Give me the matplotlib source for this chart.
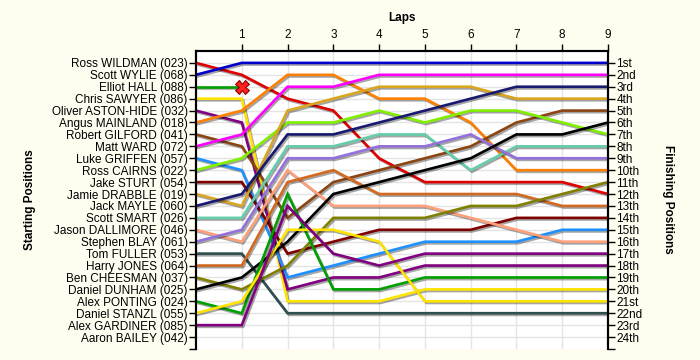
import matplotlib
matplotlib.use("Agg")
import matplotlib.pyplot as plt
import matplotlib.patheffects as pe

plt.rcParams['font.family'] = ['Liberation Sans', 'DejaVu Sans']

laps = [0, 1, 2, 3, 4, 5, 6, 7, 8, 9]

drivers = ["Ross WILDMAN (023)", "Scott WYLIE (068)", "Elliot HALL (088)", "Chris SAWYER (086)",
           "Oliver ASTON-HIDE (032)", "Angus MAINLAND (018)", "Robert GILFORD (041)", "Matt WARD (072)",
           "Luke GRIFFEN (057)", "Ross CAIRNS (022)", "Jake STURT (054)", "Jamie DRABBLE (019)",
           "Jack MAYLE (060)", "Scott SMART (026)", "Jason DALLIMORE (046)", "Stephen BLAY (061)",
           "Tom FULLER (053)", "Harry JONES (064)", "Ben CHEESMAN (037)", "Daniel DUNHAM (025)",
           "Alex PONTING (024)", "Daniel STANZL (055)", "Alex GARDINER (085)", "Aaron BAILEY (042)"]

colors = ["#E00000", "#0000CC", "#00A000", "#FFE400", "#800080", "#FF8000", "#8B4513", "#FF00FF",
          "#1E90FF", "#80F000", "#800000", "#DAA520", "#191970", "#66CDAA", "#FFA07A", "#9370DB",
          "#2F4F4F", "#D2691E", "#808000", "#000000", "#00A000", "#FFE400", "#800080", "#000000"]

# position of each driver at each lap (lap 0 = grid)
positions = [
    [1, 2, 4, 5, 9, 11, 11, 11, 11, 12],
    [2, 1, 1, 1, 1, 1, 1, 1, 1, 1],
    [3, 3],
    [4, 4, 21, 21, 21, 20, 20, 20, 20, 20],
    [5, 6, 20, 19, 19, 18, 18, 18, 18, 18],
    [6, 5, 2, 2, 4, 4, 6, 10, 10, 10],
    [7, 8, 14, 11, 10, 9, 8, 6, 5, 5],
    [8, 7, 3, 3, 2, 2, 2, 2, 2, 2],
    [9, 10, 19, 18, 17, 16, 16, 16, 15, 15],
    [10, 9, 6, 6, 5, 6, 5, 5, 6, 7],
    [11, 11, 17, 16, 15, 15, 15, 14, 14, 14],
    [12, 13, 5, 4, 3, 3, 3, 4, 4, 4],
    [13, 12, 7, 7, 6, 5, 4, 3, 3, 3],
    [14, 14, 8, 8, 7, 7, 10, 8, 8, 8],
    [15, 16, 10, 13, 13, 13, 14, 15, 16, 16],
    [16, 15, 9, 9, 8, 8, 7, 9, 9, 9],
    [17, 17, 22, 22, 22, 22, 22, 22, 22, 22],
    [18, 18, 11, 10, 12, 12, 12, 12, 13, 13],
    [19, 20, 18, 14, 14, 14, 13, 13, 12, 11],
    [20, 19, 16, 12, 11, 10, 9, 7, 7, 6],
    [21, 22, 12, 20, 20, 19, 19, 19, 19, 19],
    [22, 21, 15, 15, 16, 21, 21, 21, 21, 21],
    [23, 23, 13, 17, 18, 17, 17, 17, 17, 17],
    [],
]

retired = [(2, 1)]  # (driver index, lap)

finish_labels = ["1st", "2nd", "3rd", "4th", "5th", "6th", "7th", "8th", "9th", "10th", "11th", "12th",
                 "13th", "14th", "15th", "16th", "17th", "18th", "19th", "20th", "21st", "22nd", "23rd", "24th"]

bg = "#FFFDF0"
fig = plt.figure(figsize=(7, 3.6), dpi=100, facecolor=bg)
ax = fig.add_axes([0.28, 0.0306, 0.5886, 0.8278])
ax.set_facecolor("white")

for i, pos in enumerate(positions):
    if not pos:
        continue
    ax.plot(laps[:len(pos)], pos, color=colors[i], lw=1.9, solid_joinstyle="miter", zorder=3,
            path_effects=[pe.SimpleLineShadow(offset=(1, -1.2), shadow_color="black", alpha=0.35),
                          pe.Normal()])

for d, lap in retired:
    ax.plot(lap, positions[d][lap], marker="X", ms=10, color="#FF2020", mec="#900000", mew=0.8, zorder=5)

ax.set_xlim(0, 9)
ax.set_ylim(25, 0)

ax.set_xticks(laps[1:])
ax.set_xticklabels([str(l) for l in laps[1:]], fontsize=8.5)
ax.xaxis.tick_top()
ax.tick_params(axis="x", length=5, width=1, pad=2, direction="out")

ax.set_yticks(range(1, 25))
ax.set_yticklabels(drivers, fontsize=8.5)
ax.set_yticks([25], minor=True)
ax.tick_params(axis="y", which="both", length=5, width=1, pad=1, direction="out")

ax2 = ax.twinx()
ax2.set_ylim(25, 0)
ax2.set_yticks(range(1, 25))
ax2.set_yticklabels(finish_labels, fontsize=8.5)
ax2.set_yticks([25], minor=True)
ax2.tick_params(axis="y", which="both", length=5, width=1, pad=1, direction="out")

ax.grid(True, color="#E4E4E4", lw=1, zorder=0)
ax.set_axisbelow(True)

for a in (ax, ax2):
    a.spines["bottom"].set_visible(False)
    for s in ("left", "right", "top"):
        a.spines[s].set_linewidth(1.5)

fig.text(0.574, 0.95, "Laps", ha="center", va="center", fontsize=8.5, fontweight="bold")
fig.text(0.043, 0.445, "Starting Positions", ha="center", va="center", rotation=90,
         fontsize=8.5, fontweight="bold")
fig.text(0.955, 0.445, "Finishing Positions", ha="center", va="center", rotation=270,
         fontsize=8.5, fontweight="bold")

fig.savefig("out.png", dpi=100, facecolor=bg)
